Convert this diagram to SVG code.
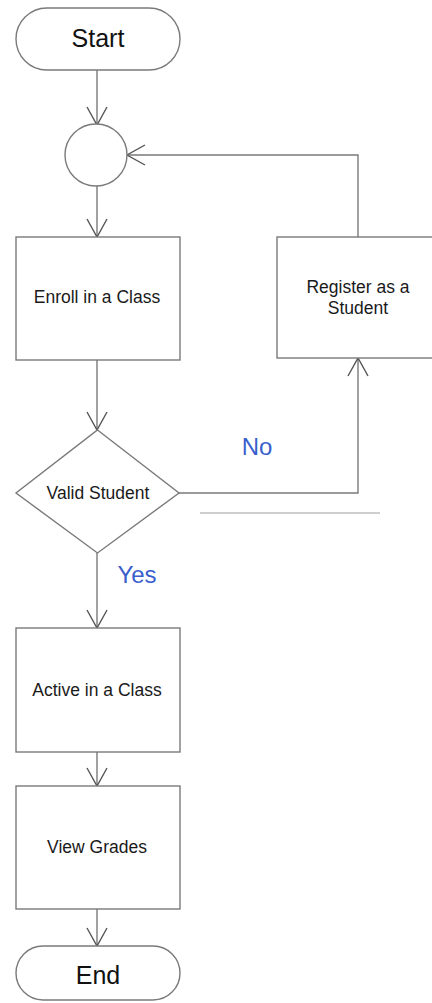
<svg xmlns="http://www.w3.org/2000/svg" width="432" height="1003" viewBox="0 0 432 1003">
<defs>
<style>
.shape{fill:#fff;stroke:#7a7a7a;stroke-width:1.4}
.edge{fill:none;stroke:#7a7a7a;stroke-width:1.4}
.lbl{font-family:"Liberation Sans",Arial,sans-serif;font-size:17.5px;fill:#1a1a1a;text-anchor:middle}
.term{font-family:"Liberation Sans",Arial,sans-serif;font-size:25px;fill:#111;text-anchor:middle}
.cond{font-family:"Liberation Sans",Arial,sans-serif;font-size:24px;fill:#3a5fcd;text-anchor:middle}
</style>
<marker id="arr" viewBox="-20 -12 22 24" refX="0" refY="0" markerWidth="22" markerHeight="24" markerUnits="userSpaceOnUse" orient="auto">
<path d="M-18,-10 L0,0 L-18,10" fill="none" stroke="#555" stroke-width="1.4"/>
</marker>
</defs>
<rect width="432" height="1003" fill="#fff"/>
<g id="connectors">
<path class="edge" d="M97,70 V125" marker-end="url(#arr)"/>
<path class="edge" d="M97,186 V237" marker-end="url(#arr)"/>
<path class="edge" d="M97,360 V430" marker-end="url(#arr)"/>
<path class="edge" d="M97,553 V628" marker-end="url(#arr)"/>
<path class="edge" d="M97,752 V786" marker-end="url(#arr)"/>
<path class="edge" d="M97,909 V946" marker-end="url(#arr)"/>
<path class="edge" d="M179,493 H358 V358" marker-end="url(#arr)"/>
<path class="edge" d="M358,237 V155 H127" marker-end="url(#arr)"/>
<path d="M200,513 H380" stroke="#cfcfcf" stroke-width="2" fill="none"/>
</g>
<g id="start">
<rect class="shape" x="16" y="8" width="164" height="62" rx="31" ry="31"/>
<text class="term" x="98" y="47">Start</text>
</g>
<g id="merge">
<circle class="shape" cx="96" cy="155" r="31"/>
</g>
<g id="enroll">
<rect class="shape" x="16" y="237" width="164" height="123"/>
<text class="lbl" x="97" y="303">Enroll in a Class</text>
</g>
<g id="register">
<rect class="shape" x="277" y="237" width="160" height="121"/>
<text class="lbl" x="358" y="293">Register as a</text>
<text class="lbl" x="358" y="314">Student</text>
</g>
<g id="valid">
<polygon class="shape" points="97.5,430 179,493 97.5,553 16,493"/>
<text class="lbl" x="98" y="499">Valid Student</text>
</g>
<g id="label-no">
<text class="cond" x="257" y="455">No</text>
</g>
<g id="label-yes">
<text class="cond" x="137" y="583">Yes</text>
</g>
<g id="active">
<rect class="shape" x="16" y="628" width="164" height="124"/>
<text class="lbl" x="97" y="696">Active in a Class</text>
</g>
<g id="grades">
<rect class="shape" x="16" y="786" width="164" height="123"/>
<text class="lbl" x="97" y="853">View Grades</text>
</g>
<g id="end">
<rect class="shape" x="16" y="946" width="164" height="54" rx="27" ry="27"/>
<text class="term" x="98" y="984">End</text>
</g>
</svg>
